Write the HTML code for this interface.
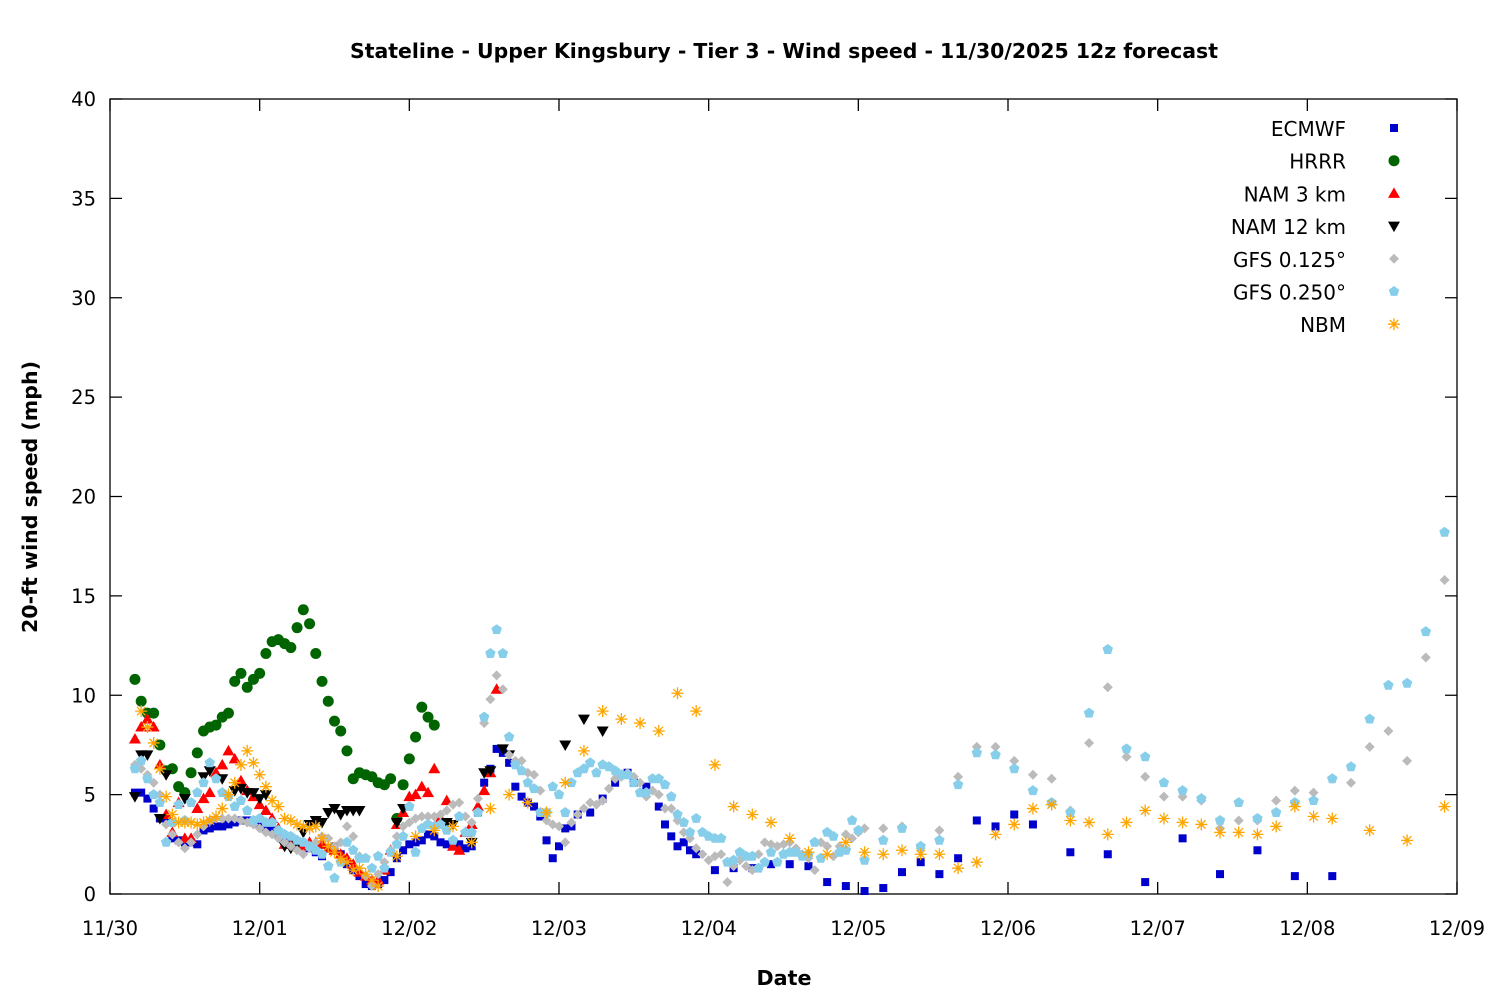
<!DOCTYPE html>
<html><head><meta charset="utf-8"><style>
body{margin:0;background:#fff}
svg text{font-family:"DejaVu Sans","Liberation Sans",sans-serif;fill:#000}
</style></head><body>
<svg id="chart" width="1500" height="1000" viewBox="0 0 1500 1000" xmlns="http://www.w3.org/2000/svg">
<rect width="1500" height="1000" fill="#fff"/>
<text x="784" y="58" text-anchor="middle" font-size="20" font-weight="bold" textLength="868" lengthAdjust="spacingAndGlyphs">Stateline - Upper Kingsbury - Tier 3 - Wind speed - 11/30/2025 12z forecast</text>
<text x="784" y="985" text-anchor="middle" font-size="20" font-weight="bold" textLength="55" lengthAdjust="spacingAndGlyphs">Date</text>
<text transform="translate(37,497) rotate(-90)" text-anchor="middle" font-size="20" font-weight="bold" textLength="272" lengthAdjust="spacingAndGlyphs">20-ft wind speed (mph)</text>
<g id="axes"></g>
<g id="marks"></g>
<g id="legend"></g>
</svg>
<script>
const yTicks=[0,5,10,15,20,25,30,35,40];
const xTickLabels=["11/30","12/01","12/02","12/03","12/04","12/05","12/06","12/07","12/08","12/09"];
function rng(a,b,s){const r=[];for(let h=a;h<=b;h+=s)r.push(h);return r;}

const ecmwfHours=rng(4,75,1).concat([77,79,81,83,84,86,88,89,90,91,92,93,94,97,100,103,106,109,112,115,118,121,124,127,130,133,136,139,142,145,148,154,160,166,172,178,184,190,196]);
const ecmwfVals=[5.1,5.1,4.8,4.3,3.8,3.8,2.8,2.7,2.6,2.6,2.5,3.2,3.3,3.4,3.4,3.5,3.6,3.7,3.7,3.6,3.5,3.3,3.2,3.0,2.8,2.7,2.5,2.4,2.3,2.1,1.9,2.3,2.4,2.0,1.5,1.2,0.9,0.5,0.4,0.5,0.7,1.1,1.8,2.2,2.5,2.6,2.7,3.0,2.9,2.6,2.5,2.4,2.5,2.3,2.4,4.1,5.6,6.3,7.3,7.1,6.6,5.4,4.9,4.6,4.4,3.9,2.7,1.8,2.4,3.3,3.4,4.0,
4.1,4.8,5.6,6.1,5.6,5.4,4.4,3.5,2.9,2.4,2.6,2.2,2.0,1.2,1.3,1.3,1.5,1.5,1.4,0.6,0.4,0.15,0.3,1.1,1.6,1.0,1.8,3.7,3.4,4.0,3.5,2.1,2.0,0.6,2.8,1.0,2.2,0.9,0.9];

const hrrrHours=rng(4,52,1);
const hrrrVals=[10.8,9.7,9.1,9.1,7.5,6.2,6.3,5.4,5.1,6.1,7.1,8.2,8.4,8.5,8.9,9.1,10.7,11.1,10.4,10.8,11.1,12.1,12.7,12.8,12.6,12.4,13.4,14.3,13.6,12.1,10.7,9.7,8.7,8.2,7.2,5.8,6.1,6.0,5.9,5.6,5.5,5.8,3.8,5.5,6.8,7.9,9.4,8.9,8.5];

const nam3Hours=rng(4,62,1);
const nam3Vals=[7.8,8.4,8.8,8.4,6.5,4.0,3.1,4.6,2.8,2.8,4.3,4.8,5.1,6.1,6.5,7.2,6.8,5.7,5.2,4.9,4.5,4.2,3.8,3.3,2.5,2.5,2.6,2.4,2.6,2.6,2.5,2.3,2.2,2.0,1.8,1.5,1.1,0.9,0.7,0.7,1.2,2.2,3.5,4.1,4.9,5.0,5.4,5.1,6.3,3.8,4.7,2.4,2.2,3.1,3.5,4.4,5.2,6.1,10.3];

const nam12Hours=[4,5,6,8,9,12,15,16,18,20,21,22,23,24,25,28,29,30,31,32,33,34,35,36,37,38,39,40,46,47,54,55,58,60,61,63,64,73,76,79];
const nam12Vals=[4.9,7.0,7.0,3.8,6.0,4.8,5.9,6.2,5.8,5.2,5.3,5.1,5.1,4.8,5.0,2.4,2.3,2.5,3.1,3.5,3.7,3.6,4.1,4.3,4.0,4.2,4.2,4.2,3.6,4.3,3.6,3.5,2.6,6.1,6.2,7.3,7.0,7.5,8.8,8.2];

const gfs125Hours=rng(4,120,1).concat(rng(121,214,3));
const gfs125Vals=[6.5,6.3,6.0,5.6,5.0,3.5,3.0,2.6,2.3,2.6,3.0,3.4,3.7,3.8,3.8,3.8,3.8,3.7,3.6,3.5,3.3,3.1,3.0,2.8,2.6,2.4,2.2,2.0,2.3,2.6,2.9,2.8,2.4,2.6,3.4,2.9,1.9,0.9,0.4,1.0,1.6,2.2,2.9,3.4,3.6,3.8,3.9,3.9,3.9,4.0,4.2,4.5,4.6,3.9,3.6,4.8,8.6,9.8,11.0,10.3,7.0,6.7,6.7,6.1,6.0,5.2,3.7,3.5,3.4,2.6,3.6,4.0,4.3,4.6,4.5,4.7,5.3,5.8,5.9,6.1,5.9,5.6,4.9,5.2,5.0,4.3,4.3,3.7,3.1,2.8,2.3,2.0,1.7,1.9,2.0,0.6,1.4,1.7,1.4,1.2,2.0,2.6,2.5,2.4,2.5,2.6,2.3,2.0,1.8,1.2,2.6,2.4,1.9,2.4,3.0,2.8,3.1,
3.3,3.3,3.4,2.3,3.2,5.9,7.4,7.4,6.7,6.0,5.8,4.2,7.6,10.4,6.9,5.9,4.9,4.9,4.7,3.3,3.7,3.7,4.7,5.2,5.1,5.8,5.6,7.4,8.2,6.7,11.9,15.8];

const gfs250Hours=rng(4,120,1).concat(rng(121,214,3));
const gfs250Vals=[6.3,6.7,5.8,5.0,4.6,2.6,3.6,4.5,3.7,4.6,5.1,5.6,6.6,5.8,5.1,4.9,4.4,4.7,4.2,3.7,3.8,3.6,3.6,3.2,3.0,2.9,2.7,2.6,2.4,2.2,2.0,1.4,0.8,1.6,2.6,2.2,1.8,1.8,1.3,1.9,1.3,2.1,2.5,2.9,4.4,2.1,3.3,3.5,3.4,3.5,3.2,2.7,3.9,3.1,3.1,4.1,8.9,12.1,13.3,12.1,7.9,6.5,6.2,5.6,5.3,4.1,4.1,5.4,5.0,4.1,5.6,6.1,6.3,6.6,6.1,6.5,6.4,6.2,6.0,6.0,5.6,5.1,5.1,5.8,5.8,5.5,4.9,4.0,3.6,3.1,3.8,3.1,2.9,2.8,2.8,1.6,1.7,2.1,1.9,1.9,1.3,1.6,2.1,1.6,2.0,2.1,2.1,1.9,2.0,2.6,1.8,3.1,2.9,2.1,2.2,3.7,3.2,
1.7,2.7,3.3,2.4,2.7,5.5,7.1,7.0,6.3,5.2,4.6,4.1,9.1,12.3,7.3,6.9,5.6,5.2,4.8,3.7,4.6,3.8,4.1,4.6,4.7,5.8,6.4,8.8,10.5,10.6,13.2,18.2];

const nbmHours=rng(5,43,1).concat(rng(46,196,3)).concat([202,208,214]);
const nbmVals=[9.2,8.4,7.6,6.3,4.9,4.0,3.6,3.6,3.6,3.5,3.6,3.7,3.9,4.3,5.0,5.6,6.5,7.2,6.6,6.0,5.4,4.7,4.4,3.8,3.7,3.5,3.4,3.3,3.4,2.8,2.4,2.1,1.8,1.6,1.2,1.3,1.0,0.7,0.4,
1.9,2.9,3.2,3.4,2.6,4.3,5.0,4.6,4.1,5.6,7.2,9.2,8.8,8.6,8.2,10.1,9.2,6.5,4.4,4.0,3.6,2.8,2.1,2.0,2.6,2.1,2.0,2.2,2.0,2.0,1.3,1.6,3.0,3.5,4.3,4.5,3.7,3.6,3.0,3.6,4.2,3.8,3.6,3.5,3.1,3.1,3.0,3.4,4.4,3.9,3.8,3.2,2.7,4.4];

const seriesNames=["ECMWF","HRRR","NAM 3 km","NAM 12 km","GFS 0.125°","GFS 0.250°","NBM"];

const X0=110,X1=1457,Y0=894,Y1=99;
const xs=h=>X0+(X1-X0)*h/216;
const ys=v=>Y0-(Y0-Y1)*v/40;
const NS="http://www.w3.org/2000/svg";
function mk(tag,attrs,parent){const e=document.createElementNS(NS,tag);for(const k in attrs)e.setAttribute(k,attrs[k]);parent.appendChild(e);return e;}

const axes=document.getElementById('axes');
const frame=mk('rect',{x:X0,y:Y1,width:X1-X0,height:Y0-Y1,fill:'none',stroke:'#000','stroke-width':1.3},axes);


yTicks.forEach(v=>{
  const y=ys(v);
  const t=mk('path',{d:`M${X0} ${y}h12M${X1} ${y}h-12`,stroke:'#000','stroke-width':1.3},axes);
  
  
  const l=mk('text',{x:96,y:y+7,'text-anchor':'end','font-size':19.5},axes);
  l.textContent=v;
  
  
});
xTickLabels.forEach((s,i)=>{
  const x=xs(i*24);
  const t=mk('path',{d:`M${x} ${Y0}v-12M${x} ${Y1}v12`,stroke:'#000','stroke-width':1.3},axes);
  
  
  const l=mk('text',{x:x,y:935,'text-anchor':'middle','font-size':19.5},axes);
  l.textContent=s;
  
  
});

function marker(kind,x,y,g){
  let e;
  if(kind===0)e=mk('rect',{x:x-4,y:y-4,width:8,height:8,fill:'#0000cc'},g);
  else if(kind===1)e=mk('circle',{cx:x,cy:y,r:5.5,fill:'#006400'},g);
  else if(kind===2)e=mk('path',{d:`M${x} ${y-6}L${x+6} ${y+4.5}L${x-6} ${y+4.5}Z`,fill:'#ff0000'},g);
  else if(kind===3)e=mk('path',{d:`M${x} ${y+6}L${x+6} ${y-4.5}L${x-6} ${y-4.5}Z`,fill:'#000'},g);
  else if(kind===4)e=mk('path',{d:`M${x} ${y-5}L${x+5} ${y}L${x} ${y+5}L${x-5} ${y}Z`,fill:'#bbbbbb'},g);
  else if(kind===5){let d='';for(let i=0;i<5;i++){const a=-Math.PI/2+i*2*Math.PI/5;d+=(i?'L':'M')+(x+5.5*Math.cos(a)).toFixed(1)+' '+(y+5.5*Math.sin(a)).toFixed(1);}e=mk('path',{d:d+'Z',fill:'#87ceeb'},g);}
  else e=mk('path',{d:`M${x-6} ${y}h12M${x} ${y-6}v12M${x-4.2} ${y-4.2}l8.4 8.4M${x-4.2} ${y+4.2}l8.4 -8.4`,stroke:'#ffa500','stroke-width':1.3,fill:'none'},g);
  return e;
}
const marks=document.getElementById('marks');
const allH=[ecmwfHours,hrrrHours,nam3Hours,nam12Hours,gfs125Hours,gfs250Hours,nbmHours];
const allV=[ecmwfVals,hrrrVals,nam3Vals,nam12Vals,gfs125Vals,gfs250Vals,nbmVals];
const seriesIds=['ecmwf','hrrr','nam3','nam12','gfs125','gfs250','nbm'];
allH.forEach((hs,k)=>{
  const g=mk('g',{},marks);
  
  
  const vs=allV[k];
  for(let i=0;i<Math.min(hs.length,vs.length);i++){
    const m=marker(k,xs(hs[i]),ys(vs[i]),g);
    
    
  }
});
const legend=document.getElementById('legend');
seriesNames.forEach((n,k)=>{
  const y=128+k*32.7;
  const g=mk('g',{},legend);
  
  
  const t=mk('text',{x:1346,y:y+8,'text-anchor':'end','font-size':20},g);
  t.textContent=n;
  marker(k,1394,y,g);
});
</script>
</body></html>
